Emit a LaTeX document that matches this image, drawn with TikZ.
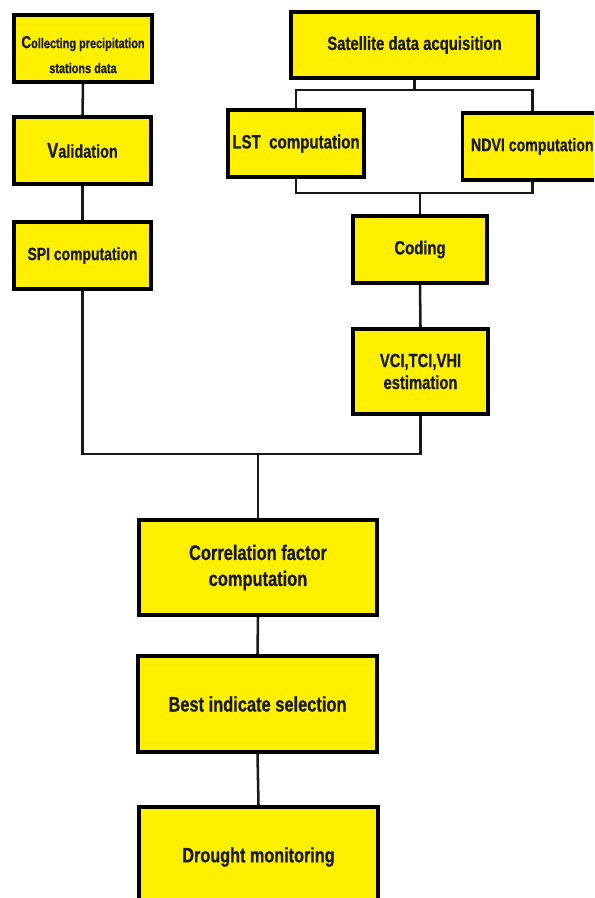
\documentclass[tikz,border=0pt]{standalone}
\usepackage{fontspec}
\newfontfamily\narrowfont{Liberation Sans}[FakeStretch=0.78, FakeBold=0.6]
\definecolor{boxyellow}{RGB}{255,240,0}

\tikzset{every picture/.style={line width=1.5pt}}
\tikzset{
  stepbox/.style={draw=black, fill=boxyellow, line width=2.6pt, align=center, inner sep=0pt},
  boxsize/.style 2 args={minimum width=#1*0.75pt, minimum height=#2*0.75pt},
  txt/.style 2 args={font=\narrowfont\bfseries\fontsize{#1}{#2}\selectfont, text=black!90},
  link/.style={line width=1.9pt, draw=black!90}
}

\begin{document}
\begin{tikzpicture}[x=0.75pt,y=0.75pt,yscale=-1,xscale=1]
%set diagram left start at 0, and has height of 898
\path[use as bounding box, clip] (0,0) rectangle (594,898);

%Left column
\node[stepbox, boxsize={138}{67}, txt={10.5}{18.75}, text height=37pt] (coll) at (83,48.5) {{\fontsize{13}{13}\selectfont C}ollecting precipitation\\stations data};
\node[stepbox, boxsize={137}{67}, txt={13.9}{17}] (val) at (82.5,150.5) {{\fontsize{16}{16}\selectfont V}alidation};
\node[stepbox, boxsize={137}{67}, txt={13.4}{17}] (spi) at (82.5,255.5) {SPI computation};

%Right column
\node[stepbox, boxsize={247}{66}, txt={14.3}{17}] (sat) at (414.5,45) {Satellite data acquisition};
\node[stepbox, boxsize={136}{67}, txt={14.5}{17}] (lst) at (296,143.5) {LST~ computation};
\node[stepbox, boxsize={140}{67}, txt={13.6}{17}, xshift=-2pt] (ndvi) at (535,146.5) {NDVI computation};
\node[stepbox, boxsize={134}{67}, txt={14.3}{17}] (coding) at (420,249.5) {Coding};
\node[stepbox, boxsize={135}{85}, txt={14.2}{16.5}] (vci) at (420.5,371.5) {VCI,TCI,VHI\\estimation};

%Bottom column
\node[stepbox, boxsize={238}{95}, txt={15.8}{19.5}] (corr) at (258,567.5) {Correlation factor\\computation};
\node[stepbox, boxsize={239}{96}, txt={15.8}{19}] (best) at (257.5,704) {Best indicate selection};
\node[stepbox, boxsize={239}{100}, txt={15.6}{19}] (drought) at (258.5,857) {Drought monitoring};

%Connectors
\draw[link] (coll.south) -- (val.north);
\draw[link] (val.south) -- (spi.north);
\draw[link] (sat.south) -- (sat.south |- 0,90);
\draw[link] (lst.north) -- (lst.north |- 0,90) -| (ndvi.north);
\draw[link] (lst.south) -- (lst.south |- 0,193) -| (ndvi.south);
\draw[link] (coding.north) -- (coding.north |- 0,193);
\draw[link] (coding.south) -- (vci.north);
\draw[link] (spi.south) -- (spi.south |- 0,454) -| (vci.south);
\draw[link] (corr.north) -- (corr.north |- 0,454);
\draw[link] (corr.south) -- (best.north);
\draw[link] (best.south) -- (drought.north);

\end{tikzpicture}
\end{document}
